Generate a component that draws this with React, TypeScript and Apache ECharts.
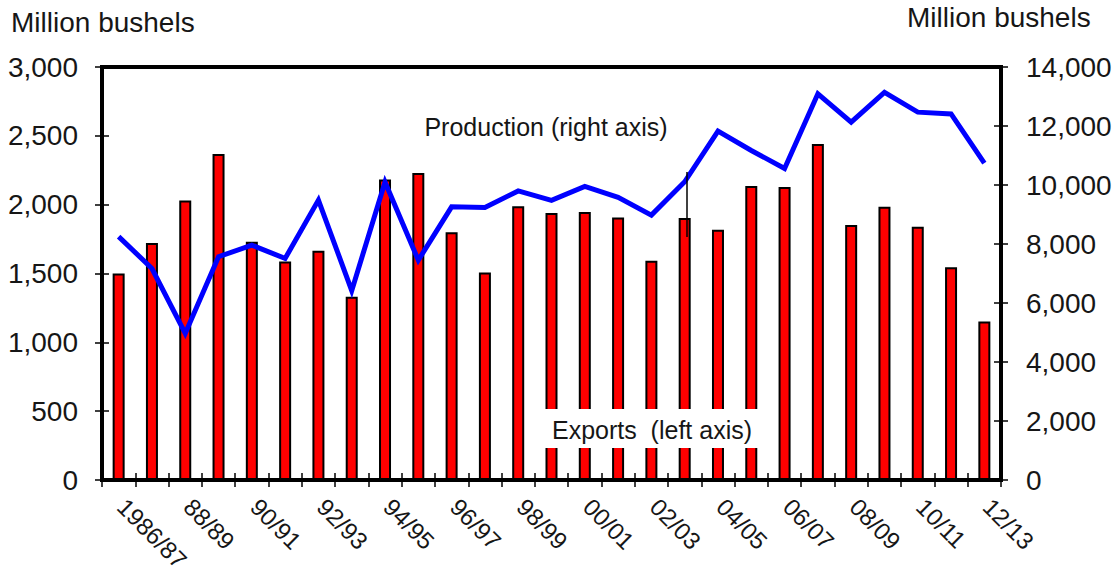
import React, { useEffect, useRef } from "react";
import * as echarts from "echarts";

const seasons = ["1986/87","87/88","88/89","89/90","90/91","91/92","92/93","93/94","94/95","95/96","96/97","97/98","98/99","99/00","00/01","01/02","02/03","03/04","04/05","05/06","06/07","07/08","08/09","09/10","10/11","11/12","12/13"];
const exportsLeft = [1500,1722,2030,2368,1730,1588,1665,1332,2182,2230,1800,1508,1988,1940,1946,1906,1592,1904,1818,2136,2128,2440,1852,1984,1840,1545,1152];
const productionRight = [8250,7170,4970,7570,7960,7510,9490,6420,10100,7450,9260,9240,9800,9480,9950,9580,8980,10110,11830,11170,10560,13090,12130,13140,12470,12410,10740];
const unitLabel = "Million bushels";
const productionNote = "Production (right axis)";
const exportsNote = "Exports  (left axis)";

const FONT = "'Liberation Sans', Arial, sans-serif";
const TXT = "#161616";

export default function App() {
  const ref = useRef<HTMLDivElement>(null);
  useEffect(() => {
    if (!ref.current) return;
    const chart = echarts.init(ref.current, null, { renderer: "svg" });
    const leftAxisBase = { type: "value", min: 0, max: 3000, interval: 500, splitLine: { show: false } };
    const rightAxisBase = { type: "value", min: 0, max: 14000, interval: 2000, splitLine: { show: false } };
    chart.setOption({
      animation: false,
      backgroundColor: "#ffffff",
      textStyle: { fontFamily: FONT },
      grid: {
        left: 102, right: 119, top: 67, bottom: 94,
        containLabel: false, outerBoundsMode: "none",
        show: true, borderColor: "#000", borderWidth: 4, backgroundColor: "transparent",
      },
      xAxis: [
        {
          type: "category",
          data: seasons,
          position: "bottom",
          z: 5,
          axisLine: { show: true, lineStyle: { color: "#000", width: 4 } },
          axisTick: { show: true, interval: 0, length: 7, lineStyle: { color: "#000", width: 1.5 } },
          axisLabel: {
            interval: 1, rotate: -45, margin: 20, align: "left", verticalAlign: "middle",
            padding: [0, 0, 0, 4], fontSize: 24, lineHeight: 22, color: TXT, fontFamily: FONT,
          },
        },
        {
          type: "category",
          data: seasons,
          position: "bottom",
          z: 5,
          axisLine: { show: false },
          axisTick: { show: true, inside: true, interval: 0, length: 7, lineStyle: { color: "#000", width: 1.5 } },
          axisLabel: { show: false },
        },
      ],
      yAxis: [
        {
          ...leftAxisBase,
          position: "left",
          z: 5,
          axisLine: { show: true, lineStyle: { color: "#000", width: 4 } },
          axisTick: { show: true, length: 7, lineStyle: { color: "#000", width: 1.5 } },
          axisLabel: {
            margin: 24, fontSize: 28, color: TXT, fontFamily: FONT,
            formatter: (v: number) => v.toLocaleString("en-US"),
          },
        },
        {
          ...rightAxisBase,
          position: "right",
          z: 5,
          axisLine: { show: true, lineStyle: { color: "#000", width: 4 } },
          axisTick: { show: true, length: 7, lineStyle: { color: "#000", width: 1.5 } },
          axisLabel: {
            margin: 25, fontSize: 28, color: TXT, fontFamily: FONT,
            formatter: (v: number) => v.toLocaleString("en-US"),
          },
        },
        {
          ...leftAxisBase,
          position: "left",
          z: 5,
          axisLine: { show: false },
          axisTick: { show: true, inside: true, length: 7, lineStyle: { color: "#000", width: 1.5 } },
          axisLabel: { show: false },
        },
        {
          ...rightAxisBase,
          position: "right",
          z: 5,
          axisLine: { show: false },
          axisTick: { show: true, inside: true, length: 7, lineStyle: { color: "#000", width: 1.5 } },
          axisLabel: { show: false },
        },
      ],
      series: [
        {
          name: "Exports",
          type: "bar",
          xAxisIndex: 0,
          yAxisIndex: 0,
          data: exportsLeft,
          barWidth: 12,
          itemStyle: { color: "#ff0000", borderColor: "#000", borderWidth: 2 },
          z: 2,
        },
        {
          name: "Production",
          type: "line",
          xAxisIndex: 0,
          yAxisIndex: 1,
          data: productionRight,
          showSymbol: false,
          symbol: "none",
          lineStyle: { color: "#0000ff", width: 5, join: "miter" },
          z: 3,
        },
      ],
      graphic: [
        { type: "text", left: 11, top: 8, z: 100, style: { text: unitLabel, fontSize: 28, fill: TXT, fontFamily: FONT } },
        { type: "text", left: 907, top: 3, z: 100, style: { text: unitLabel, fontSize: 28, fill: TXT, fontFamily: FONT } },
        { type: "text", x: 546, y: 127, z: 100, style: { text: productionNote, fontSize: 25, fill: TXT, fontFamily: FONT, align: "center", verticalAlign: "middle" } },
        { type: "rect", shape: { x: 543, y: 409, width: 217, height: 39 }, z: 99, style: { fill: "#ffffff" } },
        { type: "text", x: 652, y: 430, z: 100, style: { text: exportsNote, fontSize: 25, fill: TXT, fontFamily: FONT, align: "center", verticalAlign: "middle" } },
        { type: "line", shape: { x1: 687, y1: 172, x2: 687, y2: 237 }, z: 100, style: { stroke: "#000", lineWidth: 1.5 } },
      ],
    });
    return () => chart.dispose();
  }, []);
  return <div ref={ref} style={{ position: "fixed", left: 0, top: 0, width: 1120, height: 574 }} />;
}
